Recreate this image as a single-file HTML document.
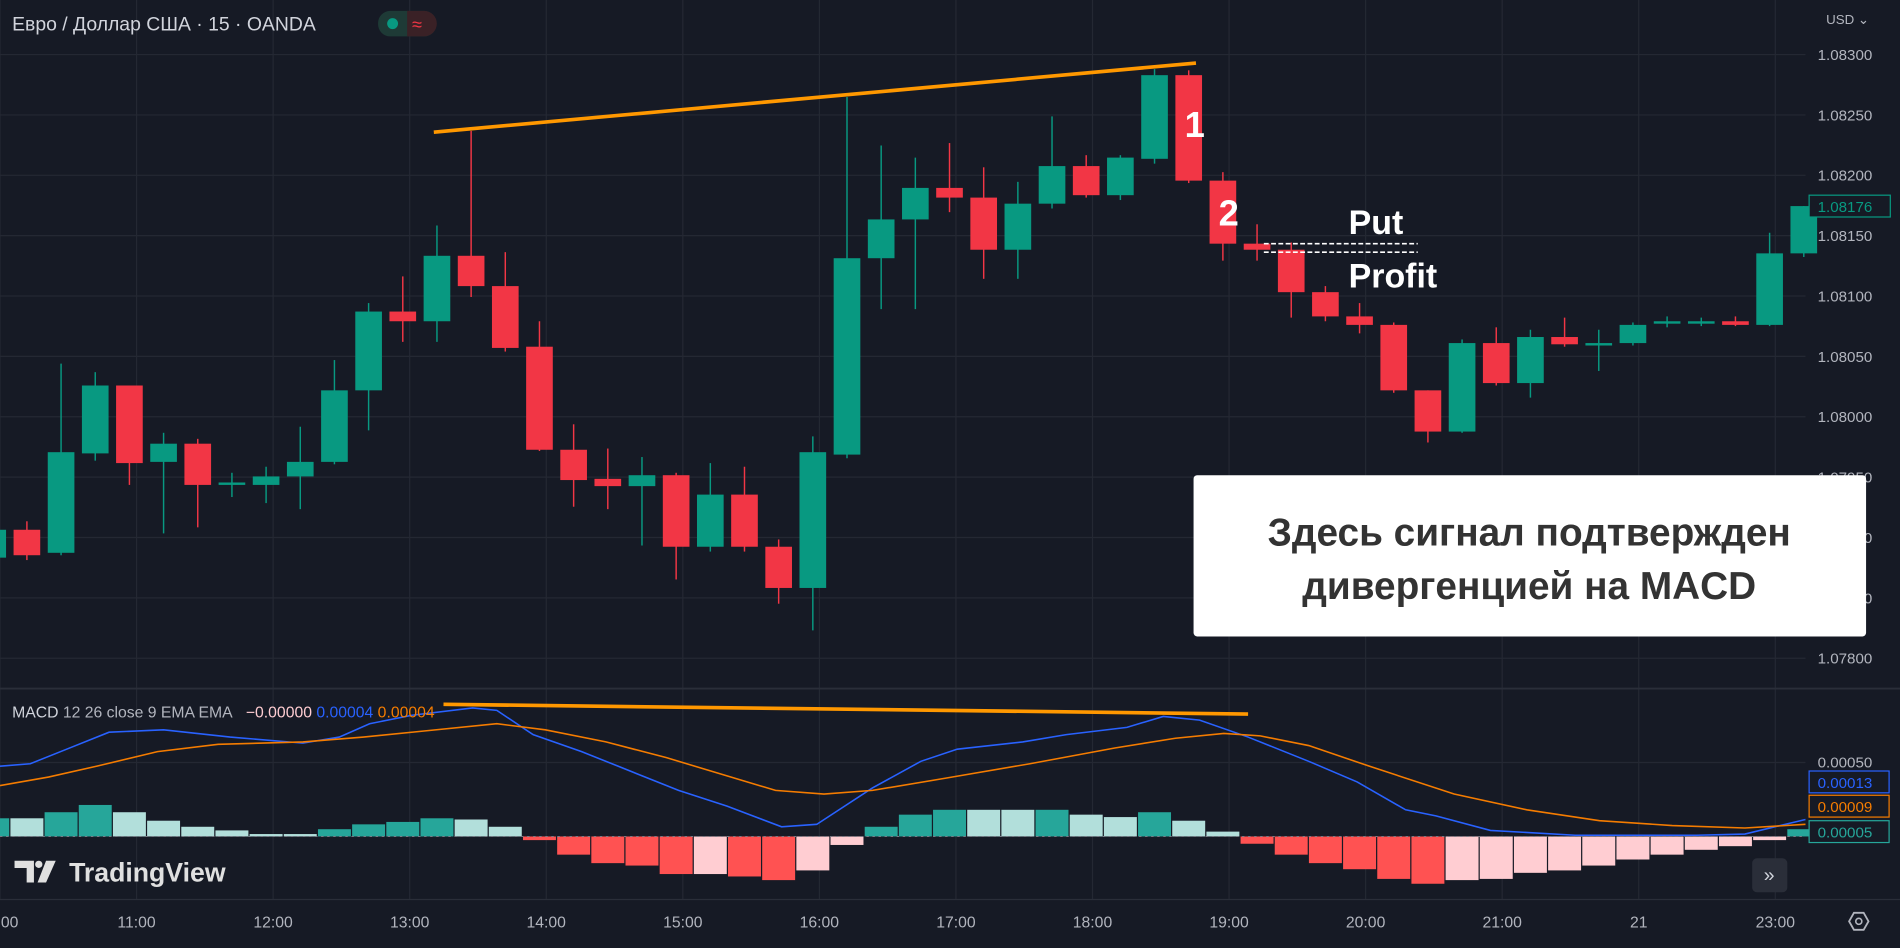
<!DOCTYPE html>
<html><head><meta charset="utf-8"><style>
html,body{margin:0;padding:0;background:#161a25;overflow:hidden}
svg{display:block}
text{font-family:"Liberation Sans","DejaVu Sans",sans-serif}
</style></head><body>
<svg id="s" width="1900" height="948" viewBox="0 0 1568 782" preserveAspectRatio="none" xmlns="http://www.w3.org/2000/svg">
<rect width="1568" height="782" fill="#161a25"/>
<g id="grid" stroke="#242833" stroke-width="1"></g>
<line x1="0" y1="568" x2="1568" y2="568" stroke="#2a2e39" stroke-width="1.5"/>
<line x1="0" y1="742" x2="1568" y2="742" stroke="#2a2e39" stroke-width="1"/>
<g id="candles"></g>
<g id="hist"></g>
<polyline fill="none" stroke="#2962ff" stroke-width="1.3" points="0,632 25,630 55,618 90,604 135,602 190,608 250,613 280,608 305,597 340,590 390,584 410,586 440,606 480,620 510,632 560,652 600,665 645,682 674,680 720,650 760,628 790,618 844,612 880,606 930,600 960,591 990,594 1030,608 1080,628 1120,645 1160,668 1185,673 1230,685 1300,689 1400,689 1440,688 1490,676"/>
<polyline fill="none" stroke="#f57c00" stroke-width="1.3" points="0,648 40,641 80,632 130,620 180,614 250,612 300,608 350,603 410,597 450,602 500,612 550,625 600,640 640,652 680,655 720,652 780,642 850,630 920,617 970,609 1010,605 1040,607 1080,615 1130,632 1200,655 1260,668 1320,677 1380,681 1440,683 1490,680"/>
<line x1="358" y1="109" x2="987" y2="52" stroke="#ff9800" stroke-width="3"/>
<line x1="366" y1="581" x2="1030" y2="589" stroke="#ff9800" stroke-width="3"/>
<text x="10" y="25" font-size="16" fill="#d1d4dc">Евро / Доллар США · 15 · OANDA</text>
<rect x="312" y="9" width="48" height="21" rx="10" fill="#1e3a36"/>
<path d="M336 9 h14 a10 10 0 0 1 0 21 h-14z" fill="#3a2126"/>
<circle cx="324" cy="19.5" r="4.5" fill="#089981"/>
<text x="340" y="25" font-size="15" fill="#f23645">≈</text>
<text x="1507" y="20" font-size="11" fill="#b2b5be">USD ⌄</text>
<g id="paxis" font-size="12.5" fill="#b2b5be"></g>
<g id="candles2"></g>
<rect x="1493" y="161" width="67" height="18" fill="#161a25" stroke="#089981" stroke-width="1"/>
<text x="1500" y="175" font-size="12.5" fill="#089981">1.08176</text>
<text x="986" y="113" font-size="30" font-weight="bold" fill="#fff" text-anchor="middle">1</text>
<text x="1014" y="186" font-size="30" font-weight="bold" fill="#fff" text-anchor="middle">2</text>
<text x="1113" y="193" font-size="28" font-weight="bold" fill="#fff">Put</text>
<text x="1113" y="237" font-size="28" font-weight="bold" fill="#fff">Profit</text>
<line x1="1043" y1="201" x2="1170" y2="201" stroke="#fff" stroke-width="1.3" stroke-dasharray="4,2"/>
<line x1="1043" y1="208" x2="1170" y2="208" stroke="#fff" stroke-width="1.3" stroke-dasharray="4,2"/>
<rect x="985" y="392" width="555" height="133" rx="3" fill="#ffffff"/>
<text x="1262" y="450" font-size="32" font-weight="bold" fill="#333" text-anchor="middle">Здесь сигнал подтвержден</text>
<text x="1262" y="494" font-size="32" font-weight="bold" fill="#333" text-anchor="middle">дивергенцией на MACD</text>
<text x="10" y="592" font-size="13" fill="#b2b5be"><tspan fill="#d1d4dc">MACD</tspan> 12 26 close 9 EMA EMA <tspan dx="8" fill="#ffcdd2">−0.00000</tspan> <tspan fill="#2962ff">0.00004</tspan> <tspan fill="#f57c00">0.00004</tspan></text>
<text x="1500" y="633" font-size="12.5" fill="#b2b5be">0.00050</text>
<rect x="1493" y="636" width="66" height="18" fill="#161a25" stroke="#2962ff"/>
<text x="1500" y="650" font-size="12.5" fill="#2962ff">0.00013</text>
<rect x="1493" y="656" width="66" height="18" fill="#161a25" stroke="#f57c00"/>
<text x="1500" y="670" font-size="12.5" fill="#f57c00">0.00009</text>
<rect x="1493" y="677" width="66" height="18" fill="#161a25" stroke="#26a69a"/>
<text x="1500" y="691" font-size="12.5" fill="#26a69a">0.00005</text>
<path d="M12 710 h16 v18 h-6 v-12 h-10z" fill="#e0e0e0"/>
<circle cx="32" cy="713" r="3" fill="#e0e0e0"/>
<path d="M38 710 h8 l-8 18 h-7z" fill="#e0e0e0"/>
<text x="57" y="727" font-size="22" font-weight="bold" fill="#e0e0e0">TradingView</text>
<rect x="1446" y="708" width="29" height="28" rx="4" fill="#2a2e39"/>
<text x="1460" y="727" font-size="16" fill="#d1d4dc" text-anchor="middle">»</text>
<g id="taxis" font-size="13" fill="#b2b5be" text-anchor="middle"></g>
<path d="M1526 760 l4 -7 h8 l4 7 l-4 7 h-8z" fill="none" stroke="#b2b5be" stroke-width="1.5"/>
<circle cx="1534" cy="760" r="2.5" fill="none" stroke="#b2b5be" stroke-width="1.3"/>
</svg>
<script>
(function(){
var NS="http://www.w3.org/2000/svg";
function el(p,t,a,txt){var e=document.createElementNS(NS,t);for(var k in a)e.setAttribute(k,a[k]);if(txt)e.textContent=txt;document.getElementById(p).appendChild(e);return e;}
var times=["00","11:00","12:00","13:00","14:00","15:00","16:00","17:00","18:00","19:00","20:00","21:00","21","23:00"];
for(var i=0;i<14;i++){var x=i*112.7;
 el("grid","line",{x1:x,y1:0,x2:x,y2:742});
 el("taxis","text",{x:i==0?8:x,y:765},times[i]);}
var pl=["1.08300","1.08250","1.08200","1.08150","1.08100","1.08050","1.08000","1.07950","1.07900","1.07850","1.07800"];
for(var i=0;i<11;i++){var y=45+i*49.8;
 el("grid","line",{x1:0,y1:y,x2:1490,y2:y});
 el("paxis","text",{x:1500,y:y+4.5},pl[i]);}
el("grid","line",{x1:0,y1:629,x2:1490,y2:629});
var c=[[460,437,430,462],[458,437,430,462],[456,373,300,458],[374,318,307,380],[318,382,318,400],[381,366,357,440],[366,400,362,435],[400,398,390,410],[400,393,385,415],[393,381,352,420],[381,322,297,383],[322,257,250,355],[257,265,228,282],[265,211,186,282],[211,236,108,245],[236,287,208,290],[286,371,265,372],[371,396,350,418],[395,401,370,420],[401,392,377,450],[392,451,390,478],[451,408,382,455],[408,451,385,455],[451,485,445,498],[485,373,360,520],[375,213,80,378],[213,181,120,255],[181,155,130,255],[155,163,118,175],[163,206,138,230],[206,168,150,230],[168,137,96,172],[137,161,128,163],[161,130,128,165],[131,62,57,135],[62,149,58,151],[149,201,142,215],[201,206,185,215],[206,241,200,262],[241,261,236,265],[261,268,250,275],[268,322,266,324],[322,356,322,365],[356,283,280,357],[283,316,270,318],[316,278,272,328],[278,284,262,286],[285,283,272,306],[283,268,266,285],[267,265,261,270],[267,265,262,269],[265,268,261,269],[268,209,192,269],[209,170,170,212]];
for(var i=0;i<c.length;i++){var x=-6+i*28.2,o=c[i][0],cl=c[i][1];
 var up=cl<=o,col=up?"#089981":"#f23645";if(i==1)col="#f23645";
 var ty=Math.min(o,cl),h=Math.max(Math.abs(o-cl),1.5);
 var g=(i==c.length-1)?"candles2":"candles";
 el(g,"line",{x1:x,y1:c[i][2],x2:x,y2:c[i][3],stroke:col,"stroke-width":1.2});
 el(g,"rect",{x:x-11,y:ty,width:22,height:h,fill:col});}
var T="#26a69a",L="#b2dfdb",R="#ff5252",P="#ffcdd2";
var hb=[[T,675],[L,675],[T,670],[T,664],[L,670],[L,677],[L,682],[L,685],[L,688],[L,688],[T,684],[T,680],[T,678],[T,675],[L,676],[L,682],[R,693],[R,705],[R,712],[R,714],[R,721],[P,721],[R,723],[R,726],[P,718],[P,697],[T,682],[T,672],[T,668],[L,668],[L,668],[T,668],[L,672],[L,674],[T,670],[L,677],[L,686],[R,696],[R,705],[R,712],[R,717],[R,725],[R,729],[P,726],[P,725],[P,720],[P,718],[P,714],[P,709],[P,705],[P,701],[P,698],[P,693],[T,684]];
for(var i=0;i<hb.length;i++){var x=-6+i*28.2,y=hb[i][1],z=690;
 el("hist","rect",{x:x-13.6,y:Math.min(y,z),width:27.2,height:Math.max(Math.abs(y-z),1),fill:hb[i][0]});}
el("hist","line",{x1:0,y1:690,x2:1490,y2:690,stroke:"#787b86","stroke-width":0.8,"stroke-dasharray":"2,3"});
})();
</script>
</body></html>
